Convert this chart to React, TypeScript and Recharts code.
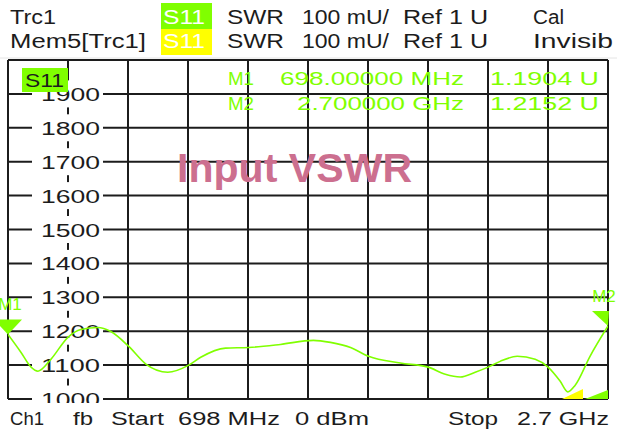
import React from 'react';
import { ComposedChart, Line, XAxis, YAxis, CartesianGrid, ReferenceDot } from 'recharts';

// Trace S11 SWR (mU) vs frequency (MHz)
const freqMHz = [698, 741, 775, 798, 841, 898, 941, 998, 1041, 1101, 1158, 1231, 1301, 1341, 1424, 1501, 1607, 1717, 1774, 1841, 1901, 2007, 2100, 2157, 2207, 2257, 2300, 2340, 2397, 2457, 2500, 2540, 2566, 2590, 2640, 2700];
const swrMilli = [1190.4, 1138, 1094, 1082, 1117, 1182, 1205, 1211, 1199, 1155, 1103, 1079, 1100, 1123, 1150, 1152, 1161, 1173, 1167, 1152, 1126, 1106, 1094, 1073, 1065, 1079, 1094, 1111, 1126, 1117, 1094, 1053, 1021, 1040, 1126, 1215.2];

// Grid / axis
const xGridFreqs = [698, 898.2, 1098.4, 1298.6, 1498.8, 1699, 1899.2, 2099.4, 2299.6, 2499.8, 2700];
const yTicks = [1000, 1100, 1200, 1300, 1400, 1500, 1600, 1700, 1800, 1900, 2000];
const yLabelHidden = [2000];

// Markers
const markerNames = ['M1', 'M2'];
const markerFreqs = [698, 2700];
const markerValues = [1190.4, 1215.2];
const markerFreqTexts = ['698.00000 MHz', '2.700000 GHz'];
const markerValueTexts = ['1.1904 U', '1.2152 U'];
const refLevel = 1000;

// Header / footer text
const headerRow1 = ['Trc1', 'S11', 'SWR', '100 mU/', 'Ref 1 U', 'Cal'];
const headerRow2 = ['Mem5[Trc1]', 'S11', 'SWR', '100 mU/', 'Ref 1 U', 'Invisib'];
const footerLeft = ['Ch1', 'fb', 'Start', '698 MHz', '0 dBm'];
const footerRight = ['Stop', '2.7 GHz'];
const titleText = 'Input VSWR';
const traceTag = 'S11';

const data = freqMHz.map((f, i) => ({ f, v: swrMilli[i] }));

const GREEN = '#80ff00';
const FONT = '"Liberation Sans", Arial, sans-serif';
const INK = '#1c1c1c';
const MARGIN = { top: 60, right: 9, bottom: 33, left: 7 };
const ADJ = 'spacingAndGlyphs';

const YTick = (props: any) => {
  const { y, payload } = props;
  if (yLabelHidden.includes(payload.value)) return <g />;
  return (
    <g>
      <rect x={32} y={y - 13.5} width={71} height={27} fill="#fff" />
      <text x={41} y={y + 7} fontSize={18} fontFamily={FONT} fill={INK} textLength={59} lengthAdjust={ADJ}>
        {payload.value}
      </text>
    </g>
  );
};

const EmptyTick = () => <g />;

const makeMarkerShape = (name: string, side: 'left' | 'right') => (props: any) => {
  const { cx, cy } = props;
  const pts = side === 'left'
    ? `${cx - 14},${cy - 15} ${cx + 14},${cy - 15} ${cx},${cy}`
    : `${cx - 16},${cy - 15} ${cx + 1},${cy - 15} ${cx},${cy}`;
  return (
    <g>
      <polygon points={pts} fill={GREEN} />
      <text x={side === 'left' ? cx + 2 : cx - 4} y={cy - 24} fontSize={17} fontFamily={FONT} fill={GREEN} textAnchor="middle">
        {name}
      </text>
    </g>
  );
};

const RefShape = (props: any) => {
  const { cx, cy } = props;
  return (
    <g>
      <polygon points={`${cx - 46},${cy} ${cx - 25},${cy - 10} ${cx - 25},${cy}`} fill="#ffff00" />
      <polygon points={`${cx - 23},${cy} ${cx},${cy - 9} ${cx},${cy}`} fill={GREEN} />
    </g>
  );
};

const verticalGen = (p: any) => {
  const scale = p?.xAxis?.scale;
  if (!scale) return [];
  const s = typeof scale.map === 'function' && typeof scale === 'object' ? (v: number) => scale.map(v) : (v: number) => scale(v);
  return xGridFreqs.map((f) => s(f));
};

const hx = [10, 163, 227, 302, 403, 533];
const hLen1 = [46, 42, 57, 87, 85, 31];
const hLen2 = [136, 42, 57, 87, 85, 80];
const fx = [10, 73, 111, 178, 295];
const fLen = [34, 20, 53, 102, 74];
const frx = [448, 517];
const frLen = [50, 92];

const layer: React.CSSProperties = { position: 'absolute', left: 0, top: 0 };

export default function App() {
  return (
    <div style={{ position: 'absolute', left: 0, top: 0, width: 617, height: 433, background: '#fff' }}>
      {/* grid + scale labels layer */}
      <div style={layer}>
        <ComposedChart width={617} height={433} data={data} margin={MARGIN}>
          <CartesianGrid stroke={INK} strokeWidth={2} verticalCoordinatesGenerator={verticalGen} />
          <XAxis type="number" dataKey="f" domain={[698, 2700]} ticks={xGridFreqs} interval={0} axisLine={false} tickLine={false} tick={<EmptyTick />} height={1} allowDataOverflow />
          <YAxis type="number" domain={[1000, 2000]} ticks={yTicks} interval={0} width={1} axisLine={false} tickLine={false} tick={<YTick />} allowDataOverflow />
        </ComposedChart>
      </div>
      {/* trace layer */}
      <div style={layer}>
        <ComposedChart width={617} height={433} data={data} margin={MARGIN}>
          <XAxis type="number" dataKey="f" domain={[698, 2700]} ticks={xGridFreqs} interval={0} axisLine={false} tickLine={false} tick={<EmptyTick />} height={1} allowDataOverflow />
          <YAxis type="number" domain={[1000, 2000]} ticks={yTicks} interval={0} width={1} axisLine={false} tickLine={false} tick={<EmptyTick />} allowDataOverflow />
          <Line type="monotone" dataKey="v" stroke={GREEN} strokeWidth={1.6} dot={false} isAnimationActive={false} />
          <ReferenceDot x={markerFreqs[0]} y={markerValues[0]} ifOverflow="visible" shape={makeMarkerShape(markerNames[0], 'left')} />
          <ReferenceDot x={markerFreqs[1]} y={markerValues[1]} ifOverflow="visible" shape={makeMarkerShape(markerNames[1], 'right')} />
          <ReferenceDot x={markerFreqs[1]} y={refLevel} ifOverflow="visible" shape={<RefShape />} />
        </ComposedChart>
      </div>
      <svg width={617} height={433} style={{ ...layer, pointerEvents: 'none' }}>
        <line x1={0} x2={617} y1={58} y2={58} stroke="#e4e4e4" strokeWidth={1} />
        <rect x={161} y={3} width={51} height={26} fill={GREEN} />
        <rect x={161} y={29} width={51} height={26} fill="#ffff00" />
        {headerRow1.map((t, i) => (
          <text key={'h1' + i} x={hx[i]} y={24} fontSize={19.5} fontFamily={FONT} fill={i === 1 ? '#fff' : INK} textLength={hLen1[i]} lengthAdjust={ADJ}>{t}</text>
        ))}
        {headerRow2.map((t, i) => (
          <text key={'h2' + i} x={hx[i]} y={48} fontSize={19.5} fontFamily={FONT} fill={i === 1 ? '#fff' : INK} textLength={hLen2[i]} lengthAdjust={ADJ}>{t}</text>
        ))}
        <rect x={22} y={68} width={46} height={24} fill={GREEN} />
        <text x={25} y={87} fontSize={18} fontFamily={FONT} fill={INK} textLength={39} lengthAdjust={ADJ}>{traceTag}</text>
        {markerNames.map((m, i) => (
          <g key={m}>
            <text x={228} y={85 + i * 25} fontSize={19} fontFamily={FONT} fill={GREEN} textLength={26} lengthAdjust={ADJ}>{m}</text>
            <text x={i === 0 ? 280 : 297} y={85 + i * 25} fontSize={19} fontFamily={FONT} fill={GREEN} textLength={i === 0 ? 184 : 167} lengthAdjust={ADJ}>{markerFreqTexts[i]}</text>
            <text x={490} y={85 + i * 25} fontSize={19} fontFamily={FONT} fill={GREEN} textLength={109} lengthAdjust={ADJ}>{markerValueTexts[i]}</text>
          </g>
        ))}
        <text x={177} y={182} fontSize={41} fontWeight="bold" fontFamily={FONT} fill="#cc6f8f" textLength={235} lengthAdjust="spacing">{titleText}</text>
        <rect x={0} y={403} width={617} height={30} fill="#fff" />
        {footerLeft.map((t, i) => (
          <text key={'fl' + i} x={fx[i]} y={425} fontSize={18} fontFamily={FONT} fill={INK} textLength={fLen[i]} lengthAdjust={ADJ}>{t}</text>
        ))}
        {footerRight.map((t, i) => (
          <text key={'fr' + i} x={frx[i]} y={425} fontSize={18} fontFamily={FONT} fill={INK} textLength={frLen[i]} lengthAdjust={ADJ}>{t}</text>
        ))}
      </svg>
    </div>
  );
}
